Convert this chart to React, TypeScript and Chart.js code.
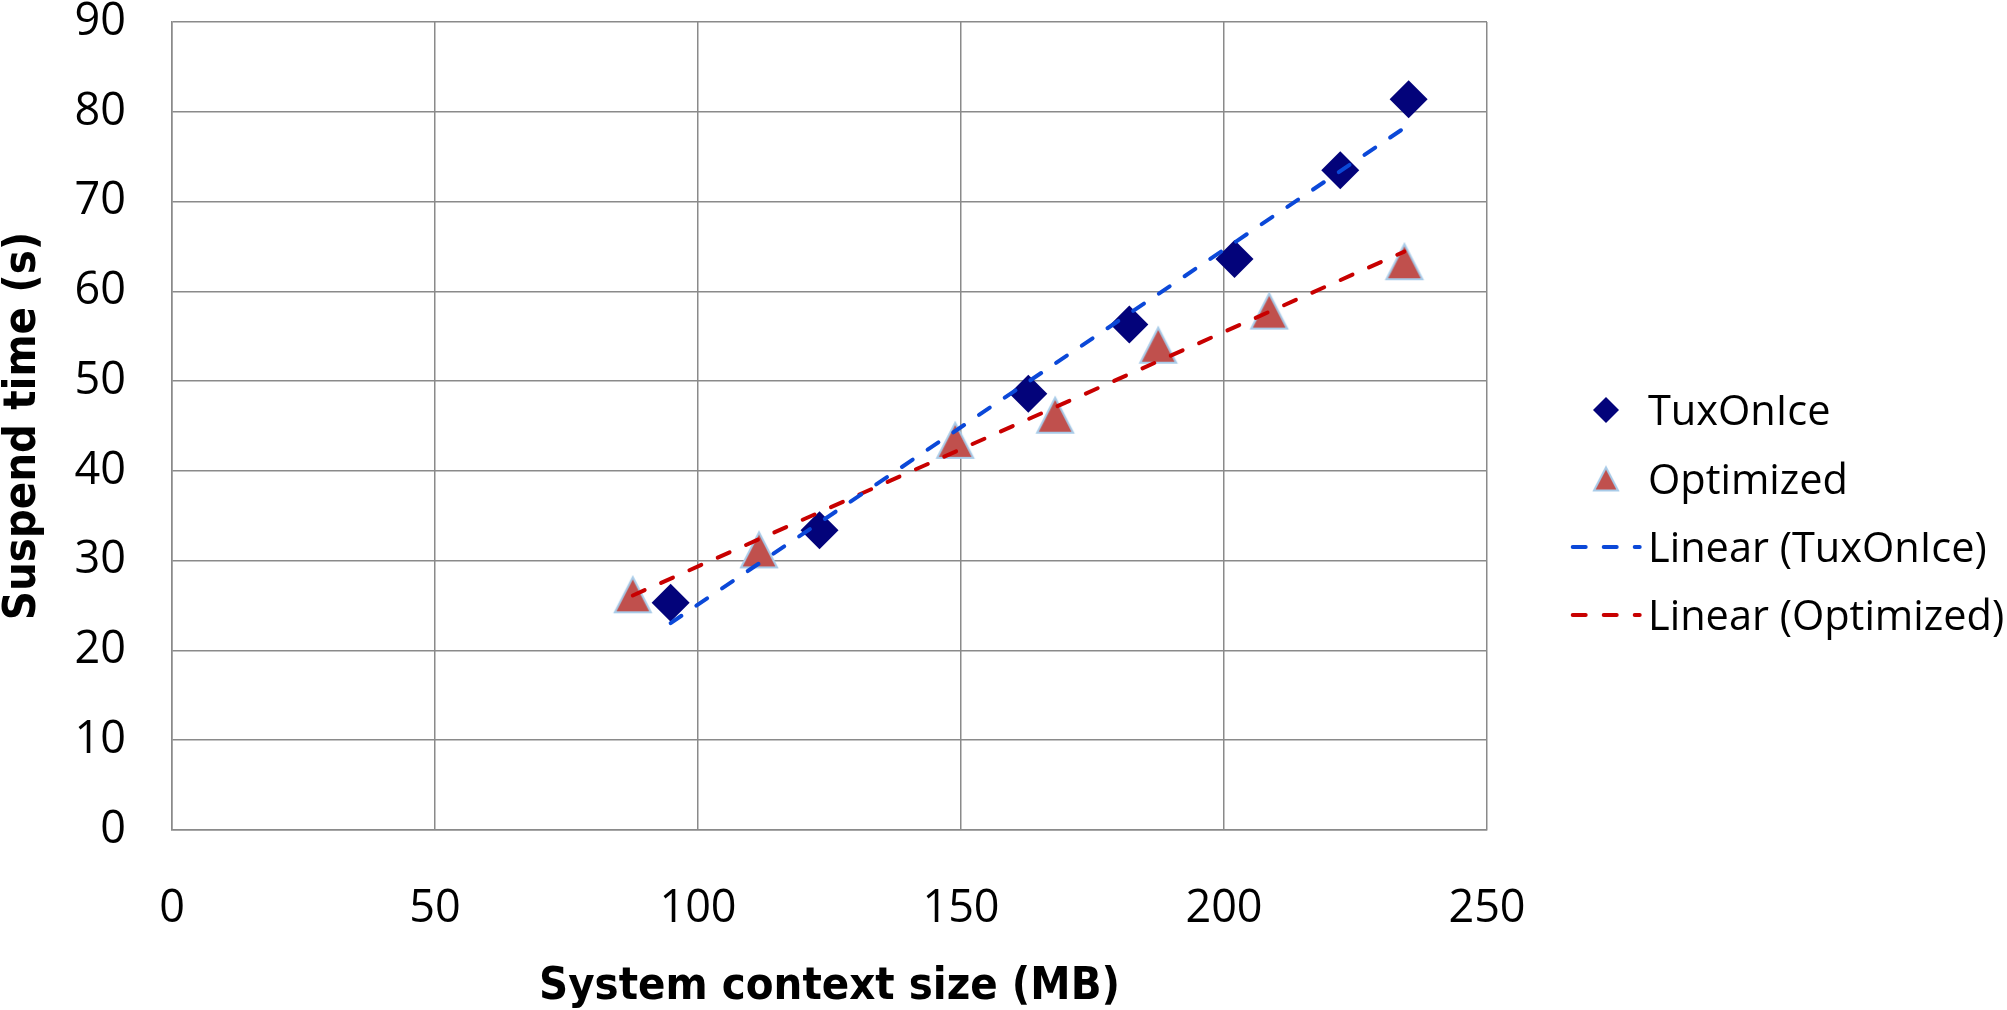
import React, { useEffect, useRef } from "react";
import { Chart, registerables } from "chart.js";

Chart.register(...registerables);

// ---- Data ----
const tuxOnIceX = [94.8, 123.1, 162.8, 182.0, 202.0, 222.1, 235.1];
const tuxOnIceY = [25.3, 33.4, 48.6, 56.3, 63.6, 73.5, 81.4];
const optimizedX = [87.6, 111.6, 148.9, 167.9, 187.5, 208.6, 234.3];
const optimizedY = [26.2, 31.2, 43.4, 46.2, 54.0, 57.8, 63.3];
const xTickValues = [0, 50, 100, 150, 200, 250];
const yTickValues = [0, 10, 20, 30, 40, 50, 60, 70, 80, 90];
const seriesNames = ["TuxOnIce", "Optimized", "Linear (TuxOnIce)", "Linear (Optimized)"];
const xAxisTitle = "System context size (MB)";
const yAxisTitle = "Suspend time (s)";

// ---- Styles ----
const TUX_COLOR = "#03037a";
const OPT_FILL = "#c0504d";
const OPT_BORDER = "#a8cbe8";
const TUX_TREND = "#0b48d8";
const OPT_TREND = "#c80000";
const GRID = "#8a8a8a";
const FONT = '"Open Sans", "Noto Sans", sans-serif';
const TITLE_FONT = '"DejaVu Sans Condensed", "Liberation Sans Narrow", sans-serif';

function linearFit(xs: number[], ys: number[]) {
  const n = xs.length;
  const mx = xs.reduce((a, b) => a + b, 0) / n;
  const my = ys.reduce((a, b) => a + b, 0) / n;
  let sxy = 0;
  let sxx = 0;
  for (let i = 0; i < n; i++) {
    sxy += (xs[i] - mx) * (ys[i] - my);
    sxx += (xs[i] - mx) * (xs[i] - mx);
  }
  const slope = sxy / sxx;
  const icpt = my - slope * mx;
  const x0 = Math.min(...xs);
  const x1 = Math.max(...xs);
  return [
    { x: x0, y: icpt + slope * x0 },
    { x: x1, y: icpt + slope * x1 },
  ];
}

function makeTriangle(w: number, h: number, lw: number) {
  const c = document.createElement("canvas");
  const pad = lw;
  c.width = Math.ceil(w + pad * 2);
  c.height = Math.ceil(h + pad * 2);
  const ctx = c.getContext("2d")!;
  const cx = c.width / 2;
  const top = (c.height - h) / 2 + lw / 2;
  const bottom = top + h - lw;
  ctx.beginPath();
  ctx.moveTo(cx, top);
  ctx.lineTo(cx + (w - lw) / 2, bottom);
  ctx.lineTo(cx - (w - lw) / 2, bottom);
  ctx.closePath();
  ctx.fillStyle = OPT_FILL;
  ctx.fill();
  ctx.lineWidth = lw;
  ctx.lineJoin = "miter";
  ctx.strokeStyle = OPT_BORDER;
  ctx.stroke();
  return c;
}

export default function App() {
  const ref = useRef<HTMLCanvasElement | null>(null);

  useEffect(() => {
    const canvas = ref.current;
    if (!canvas) return;

    const triBig = makeTriangle(38, 37, 2);
    const triSmall = makeTriangle(26, 25, 2);

    const tuxPts = tuxOnIceX.map((x, i) => ({ x, y: tuxOnIceY[i] }));
    const optPts = optimizedX.map((x, i) => ({ x, y: optimizedY[i] }));
    const tuxTrend = linearFit(tuxOnIceX, tuxOnIceY);
    const optTrend = linearFit(optimizedX, optimizedY);

    const legendPlugin = {
      id: "customLegend",
      afterDraw(chart: any) {
        const ctx = chart.ctx as CanvasRenderingContext2D;
        ctx.save();
        const textX = 1648;
        const markerX = 1606;
        const baselines = [425, 494, 562, 630];
        const centers = [410, 479, 547, 615];
        // diamond
        ctx.fillStyle = TUX_COLOR;
        ctx.beginPath();
        const r = 13;
        ctx.moveTo(markerX - r, centers[0]);
        ctx.lineTo(markerX, centers[0] - r);
        ctx.lineTo(markerX + r, centers[0]);
        ctx.lineTo(markerX, centers[0] + r);
        ctx.closePath();
        ctx.fill();
        // triangle
        ctx.drawImage(triSmall, markerX - triSmall.width / 2, centers[1] - triSmall.height / 2);
        // dashed lines
        const drawDash = (y: number, color: string) => {
          ctx.beginPath();
          ctx.setLineDash([13, 18]);
          ctx.lineCap = "round";
          ctx.lineWidth = 4;
          ctx.strokeStyle = color;
          ctx.moveTo(1572.7, y);
          ctx.lineTo(1639.7, y);
          ctx.stroke();
          ctx.setLineDash([]);
        };
        drawDash(centers[2], TUX_TREND);
        drawDash(centers[3], OPT_TREND);
        ctx.fillStyle = "#000";
        ctx.font = `41.5px ${FONT}`;
        ctx.textAlign = "left";
        ctx.textBaseline = "alphabetic";
        seriesNames.forEach((name, i) => ctx.fillText(name, textX, baselines[i]));
        ctx.restore();
      },
    };

    const chart = new Chart(canvas, {
      type: "scatter",
      data: {
        datasets: [
          {
            label: seriesNames[0],
            data: tuxPts,
            pointStyle: "rectRot",
            pointRadius: 19,
            pointHoverRadius: 19,
            backgroundColor: TUX_COLOR,
            borderWidth: 0,
            showLine: false,
            order: 2,
          },
          {
            label: seriesNames[1],
            data: optPts,
            pointStyle: triBig as any,
            pointRadius: 19,
            showLine: false,
            order: 2,
          },
          {
            label: seriesNames[2],
            type: "line",
            data: tuxTrend,
            borderColor: TUX_TREND,
            borderWidth: 4,
            borderDash: [13, 18],
            borderCapStyle: "round",
            pointRadius: 0,
            fill: false,
            order: 1,
          } as any,
          {
            label: seriesNames[3],
            type: "line",
            data: optTrend,
            borderColor: OPT_TREND,
            borderWidth: 4,
            borderDash: [13, 18],
            borderCapStyle: "round",
            pointRadius: 0,
            fill: false,
            order: 1,
          } as any,
        ],
      },
      options: {
        responsive: false,
        animation: false,
        devicePixelRatio: 1,
        layout: { padding: { top: 22, right: 520, bottom: 0, left: 0 } },
        plugins: {
          legend: { display: false },
          tooltip: { enabled: false },
        },
        scales: {
          x: {
            type: "linear",
            min: xTickValues[0],
            max: xTickValues[xTickValues.length - 1],
            ticks: {
              stepSize: xTickValues[1] - xTickValues[0],
              color: "#000",
              font: { family: FONT, size: 45, lineHeight: 1.2 },
              padding: 0,
            },
            grid: {
              color: GRID,
              lineWidth: 1.5,
              drawTicks: true,
              tickLength: 52,
              tickColor: "rgba(0,0,0,0)",
            },
            border: { color: GRID, width: 1.5 },
            title: {
              display: true,
              text: xAxisTitle,
              color: "#000",
              font: { family: TITLE_FONT, size: 45, weight: "bold", lineHeight: 1 },
              padding: 0,
            },
            afterFit(scale: any) {
              scale.height = 180;
            },
          },
          y: {
            type: "linear",
            min: yTickValues[0],
            max: yTickValues[yTickValues.length - 1],
            ticks: {
              stepSize: yTickValues[1] - yTickValues[0],
              color: "#000",
              font: { family: FONT, size: 45, lineHeight: 0.97 },
              padding: 0,
            },
            grid: {
              color: GRID,
              lineWidth: 1.5,
              drawTicks: true,
              tickLength: 46,
              tickColor: "rgba(0,0,0,0)",
            },
            border: { color: GRID, width: 1.5 },
            title: {
              display: true,
              text: yAxisTitle,
              color: "#000",
              font: { family: TITLE_FONT, size: 45, weight: "bold", lineHeight: 1 },
              padding: { top: 1, bottom: 0 },
            },
            afterFit(scale: any) {
              scale.width = 172;
            },
          },
        },
      } as any,
      plugins: [legendPlugin],
    });

    return () => chart.destroy();
  }, []);

  return (
    <div style={{ position: "fixed", left: 0, top: 0, width: 2007, height: 1010, background: "#fff" }}>
      <canvas ref={ref} width={2007} height={1010} style={{ display: "block" }} />
    </div>
  );
}
